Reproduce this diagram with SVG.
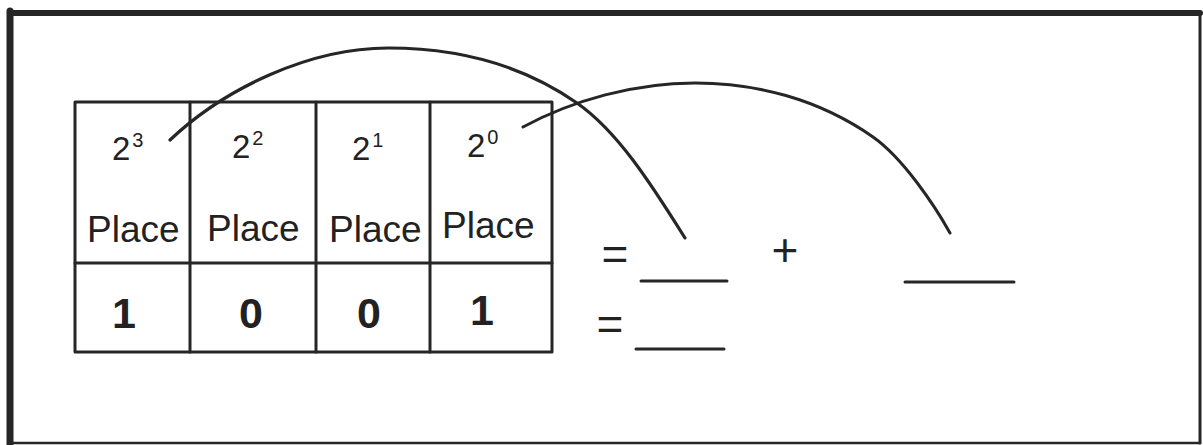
<svg xmlns="http://www.w3.org/2000/svg" width="1203" height="445" viewBox="0 0 1203 445">
<style>
.ln{stroke:#262626;fill:none;stroke-linecap:round;stroke-linejoin:round}
.tb{stroke-width:3}
.t{font-family:"Liberation Sans",Arial,sans-serif;fill:#222}
.base{font-size:33px}
.sup{font-size:20px}
.pl{font-size:37px}
.bit{font-size:43px;font-weight:bold}
.eq{font-size:46px}
</style>
<rect width="1203" height="445" fill="#fff"/>
<g id="frame">
<line class="ln" x1="10" y1="13" x2="1200" y2="13" stroke-width="6"/>
<line class="ln" x1="10" y1="11" x2="10" y2="445" stroke-width="7"/>
<line class="ln" x1="1200" y1="12" x2="1200" y2="443" stroke-width="3"/>
<line class="ln" x1="10" y1="443" x2="1200" y2="443" stroke-width="2.5"/>
</g>
<g id="table">
<rect class="ln tb" x="75" y="102" width="477" height="250"/>
<line class="ln tb" x1="75" y1="263" x2="552" y2="263"/>
<line class="ln tb" x1="190" y1="102" x2="190" y2="352"/>
<line class="ln tb" x1="316" y1="102" x2="316" y2="352"/>
<line class="ln tb" x1="430" y1="102" x2="430" y2="352"/>
</g>
<g id="cell-2-3">
<text class="t base" x="112" y="160">2<tspan class="sup" dx="2" dy="-13">3</tspan></text>
<text class="t pl" x="87" y="242">Place</text>
<text class="t bit" x="124" y="328" text-anchor="middle">1</text>
</g>
<g id="cell-2-2">
<text class="t base" x="232" y="158">2<tspan class="sup" dx="2" dy="-13">2</tspan></text>
<text class="t pl" x="207" y="241">Place</text>
<text class="t bit" x="251" y="328" text-anchor="middle">0</text>
</g>
<g id="cell-2-1">
<text class="t base" x="352" y="160">2<tspan class="sup" dx="2" dy="-13">1</tspan></text>
<text class="t pl" x="329" y="242">Place</text>
<text class="t bit" x="369" y="328" text-anchor="middle">0</text>
</g>
<g id="cell-2-0">
<text class="t base" x="467" y="157">2<tspan class="sup" dx="2" dy="-13">0</tspan></text>
<text class="t pl" x="442" y="238">Place</text>
<text class="t bit" x="482" y="325" text-anchor="middle">1</text>
</g>
<g id="equation">
<text class="t eq" x="615" y="270" text-anchor="middle">=</text>
<text class="t eq" x="610" y="340" text-anchor="middle">=</text>
<text class="t eq" x="785" y="266" text-anchor="middle">+</text>
<line class="ln" x1="641" y1="281" x2="727" y2="281" stroke-width="3"/>
<line class="ln" x1="905" y1="282" x2="1014" y2="282" stroke-width="3"/>
<line class="ln" x1="636" y1="349" x2="724" y2="349" stroke-width="3"/>
</g>
<g id="connectors">
<path class="ln" stroke-width="3.2" d="M170,140 C225,88 310,48 388,48 C458,48 522,64.5 577,103 C617,131 650,182 685,238"/>
<path class="ln" stroke-width="3" d="M523,127 C573,100 635,83 695,83 C755,83 818,98.5 873,137 C903,158 935,206 950,233"/>
</g>
</svg>
